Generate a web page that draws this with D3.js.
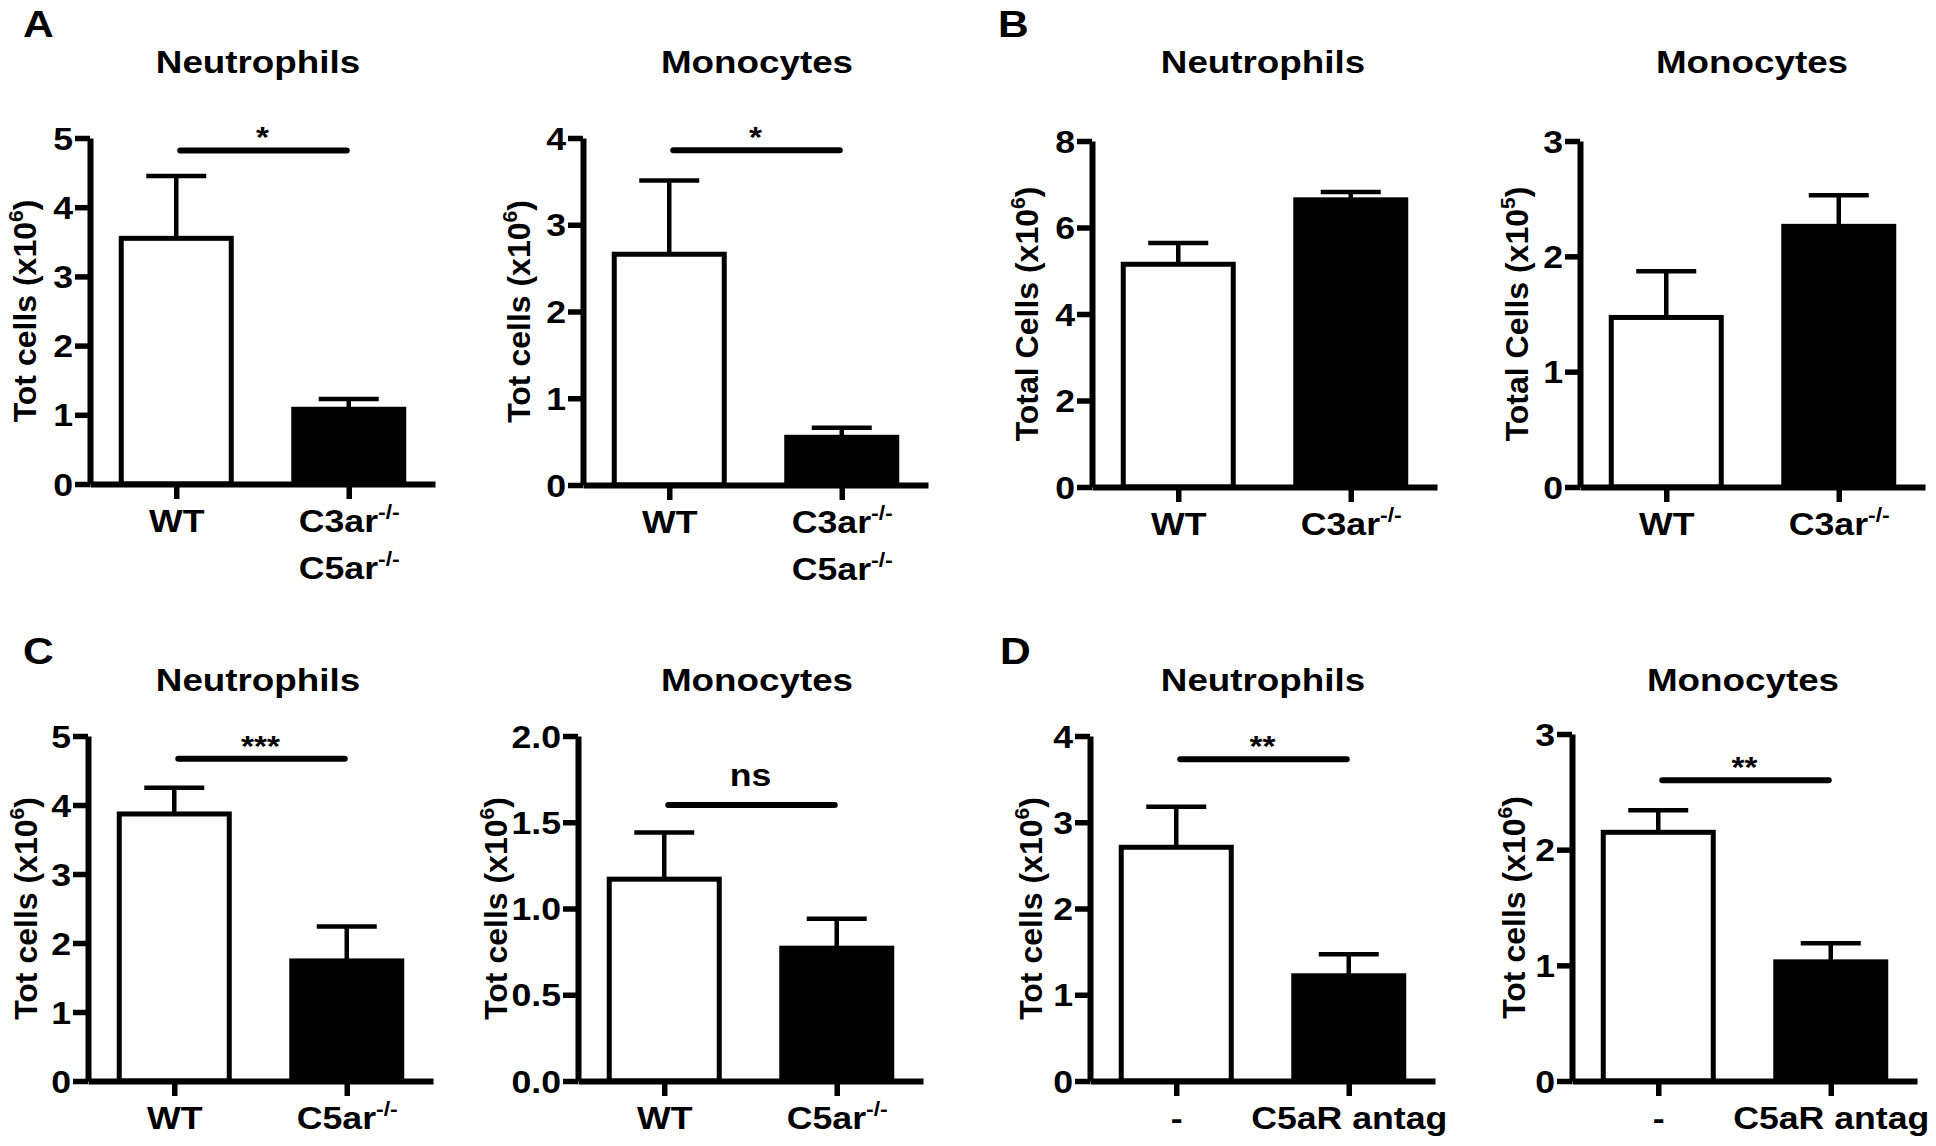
<!DOCTYPE html>
<meta charset="utf-8">
<style>

body {
  margin: 0;
  background: #fff;
}

svg text {
  font-family: "Liberation Sans", Arial, sans-serif;
  font-weight: bold;
  fill: #000;
}

</style>
<svg id="fig" width="1936" height="1146"></svg>
<script src="https://d3js.org/d3.v7.min.js"></script>

<script>

// ---- data ----
var panelLetters = ["A", "B", "C", "D"];
var panelTitles = ["Neutrophils", "Monocytes", "Neutrophils", "Monocytes",
                   "Neutrophils", "Monocytes", "Neutrophils", "Monocytes"];
var yLabels = ["Tot cells (x10", "Tot cells (x10", "Total Cells (x10", "Total Cells (x10",
               "Tot cells (x10", "Tot cells (x10", "Tot cells (x10", "Tot cells (x10"];
var yExponents = ["6", "6", "6", "5", "6", "6", "6", "6"];
// "^" starts a superscript, "\n" a new line
var groupLabels = [
  ["WT", "C3ar^-/-\nC5ar^-/-"],
  ["WT", "C3ar^-/-\nC5ar^-/-"],
  ["WT", "C3ar^-/-"],
  ["WT", "C3ar^-/-"],
  ["WT", "C5ar^-/-"],
  ["WT", "C5ar^-/-"],
  ["-", "C5aR antag"],
  ["-", "C5aR antag"]
];
var means = [[3.55, 1.08], [2.66, 0.55], [5.15, 6.64], [1.47, 2.26],
             [3.87, 1.74], [1.17, 0.77], [2.71, 1.22], [2.15, 1.03]];
var sems = [[0.90, 0.15], [0.85, 0.11], [0.49, 0.18], [0.40, 0.27],
            [0.38, 0.50], [0.27, 0.17], [0.47, 0.25], [0.19, 0.16]];
var yMax = [5, 4, 8, 3, 5, 2, 4, 3];
var yStep = [1, 1, 2, 1, 1, 0.5, 1, 1];
var sigText = ["*", "*", "", "", "***", "ns", "**", "**"];
var sigLevel = [4.82, 3.86, 0, 0, 4.67, 1.6, 3.73, 2.6];
var barFills = ["#fff", "#000"];

// ---- layout (pixels) ----
var SX = 1.15;  // the original lettering is a bit wide
var layout = [
  {x: 90,   y0: 484,  top: 138, lab: 54, tx: 258},
  {x: 583,  y0: 485,  top: 138, lab: 53, tx: 757},
  {x: 1092, y0: 487,  top: 141, lab: 54, tx: 1263},
  {x: 1580, y0: 487,  top: 141, lab: 52, tx: 1752},
  {x: 88,   y0: 1081, top: 736, lab: 51, tx: 258},
  {x: 578,  y0: 1081, top: 736, lab: 71, tx: 757},
  {x: 1090, y0: 1081, top: 736, lab: 48, tx: 1263},
  {x: 1572, y0: 1081, top: 734, lab: 47, tx: 1743}
];
var titleY = [73, 691];
var letterPos = [[23, 37], [998, 37], [23, 664], [1000, 664]];
var axisLen = 345,
    barW = 110,
    capW = 60;

var svg = d3.select("#fig");

function stretch(x, y, rot) {
  return "translate(" + x + "," + y + ") scale(" + SX + ",1)" + (rot ? " rotate(" + rot + ")" : "");
}

// text with an optional superscript after "^"
function richText(t, str, supSize, supDy) {
  var parts = str.split("^");
  t.append("tspan").text(parts[0]);
  if (parts.length > 1) {
    t.append("tspan")
      .style("font-size", supSize + "px")
      .attr("dy", -supDy)
      .text(parts[1]);
  }
}

// panel letters
svg.selectAll(".letter")
  .data(panelLetters)
  .enter().append("text")
    .attr("class", "letter")
    .style("font-size", "37px")
    .attr("transform", function(d, i) { return stretch(letterPos[i][0], letterPos[i][1]); })
    .text(function(d) { return d; });

layout.forEach(function(L, p) {
  var g = svg.append("g");

  var y = d3.scaleLinear().domain([0, yMax[p]]).range([L.y0, L.top]);
  var x = d3.scalePoint().domain([0, 1]).range([L.x, L.x + axisLen]).padding(0.5);

  // title
  g.append("text")
    .style("font-size", "32px")
    .attr("text-anchor", "middle")
    .attr("transform", stretch(L.tx, titleY[p < 4 ? 0 : 1]))
    .text(panelTitles[p]);

  // y label
  var yl = g.append("text")
    .style("font-size", "32px")
    .attr("text-anchor", "middle")
    .attr("transform", "translate(" + (L.x - L.lab) + "," + (L.y0 + L.top) / 2 + ") rotate(-90)");
  yl.append("tspan").text(yLabels[p]);
  yl.append("tspan").style("font-size", "21px").attr("dy", -13).text(yExponents[p]);
  yl.append("tspan").attr("dy", 13).text(")");

  // bars
  var bars = g.selectAll(".bar")
    .data(means[p])
    .enter().append("g");

  bars.append("rect")
    .attr("x", function(d, i) { return x(i) - barW / 2; })
    .attr("y", function(d) { return y(d); })
    .attr("width", barW)
    .attr("height", function(d) { return L.y0 - y(d); })
    .attr("fill", function(d, i) { return barFills[i]; })
    .attr("stroke", "#000")
    .attr("stroke-width", 5);

  // error bars (upper only)
  bars.append("line")
    .attr("x1", function(d, i) { return x(i); })
    .attr("x2", function(d, i) { return x(i); })
    .attr("y1", function(d) { return y(d); })
    .attr("y2", function(d, i) { return y(d + sems[p][i]); })
    .attr("stroke", "#000")
    .attr("stroke-width", 4.5);

  bars.append("line")
    .attr("x1", function(d, i) { return x(i) - capW / 2; })
    .attr("x2", function(d, i) { return x(i) + capW / 2; })
    .attr("y1", function(d, i) { return y(d + sems[p][i]); })
    .attr("y2", function(d, i) { return y(d + sems[p][i]); })
    .attr("stroke", "#000")
    .attr("stroke-width", 4.5);

  // y axis
  var fmt = yStep[p] < 1 ? d3.format(".1f") : d3.format("d");
  var yAxis = g.append("g")
    .attr("transform", "translate(" + L.x + ",0)")
    .call(d3.axisLeft(y)
      .tickValues(d3.range(0, yMax[p] + yStep[p] / 2, yStep[p]))
      .tickSize(15)
      .tickSizeOuter(0)
      .tickFormat(fmt));

  // x axis
  var xAxis = g.append("g")
    .attr("transform", "translate(0," + L.y0 + ")")
    .call(d3.axisBottom(x).tickSize(15).tickSizeOuter(0).tickFormat(""));

  [yAxis, xAxis].forEach(function(a) {
    a.attr("font-family", null).attr("font-size", null);
    a.select(".domain").attr("stroke", "#000").attr("stroke-width", 6);
    a.selectAll(".tick line").attr("stroke", "#000").attr("stroke-width", 5.5);
  });

  yAxis.selectAll(".tick text")
    .attr("x", null)
    .attr("dy", null)
    .attr("fill", null)
    .style("font-size", "31px")
    .attr("transform", stretch(-17, 11));

  xAxis.selectAll(".tick text").remove();
  xAxis.selectAll(".tick").each(function(d) {
    var tick = d3.select(this);
    groupLabels[p][d].split("\n").forEach(function(line, k) {
      var t = tick.append("text")
        .style("font-size", "31px")
        .attr("text-anchor", "middle")
        .attr("transform", stretch(0, 48 + 47 * k));
      richText(t, line, 20, 13);
    });
  });

  // significance bar
  if (sigText[p]) {
    var sy = y(sigLevel[p]);
    var isNs = sigText[p] === "ns";
    g.append("line")
      .attr("x1", x(0) + 4)
      .attr("x2", x(1) - 2)
      .attr("y1", sy)
      .attr("y2", sy)
      .attr("stroke", "#000")
      .attr("stroke-width", 6)
      .attr("stroke-linecap", "round");
    g.append("text")
      .style("font-size", isNs ? "31px" : "29px")
      .attr("text-anchor", "middle")
      .attr("transform", stretch((x(0) + x(1)) / 2, sy + (isNs ? -19 : -3)))
      .text(sigText[p]);
  }
});

</script>
